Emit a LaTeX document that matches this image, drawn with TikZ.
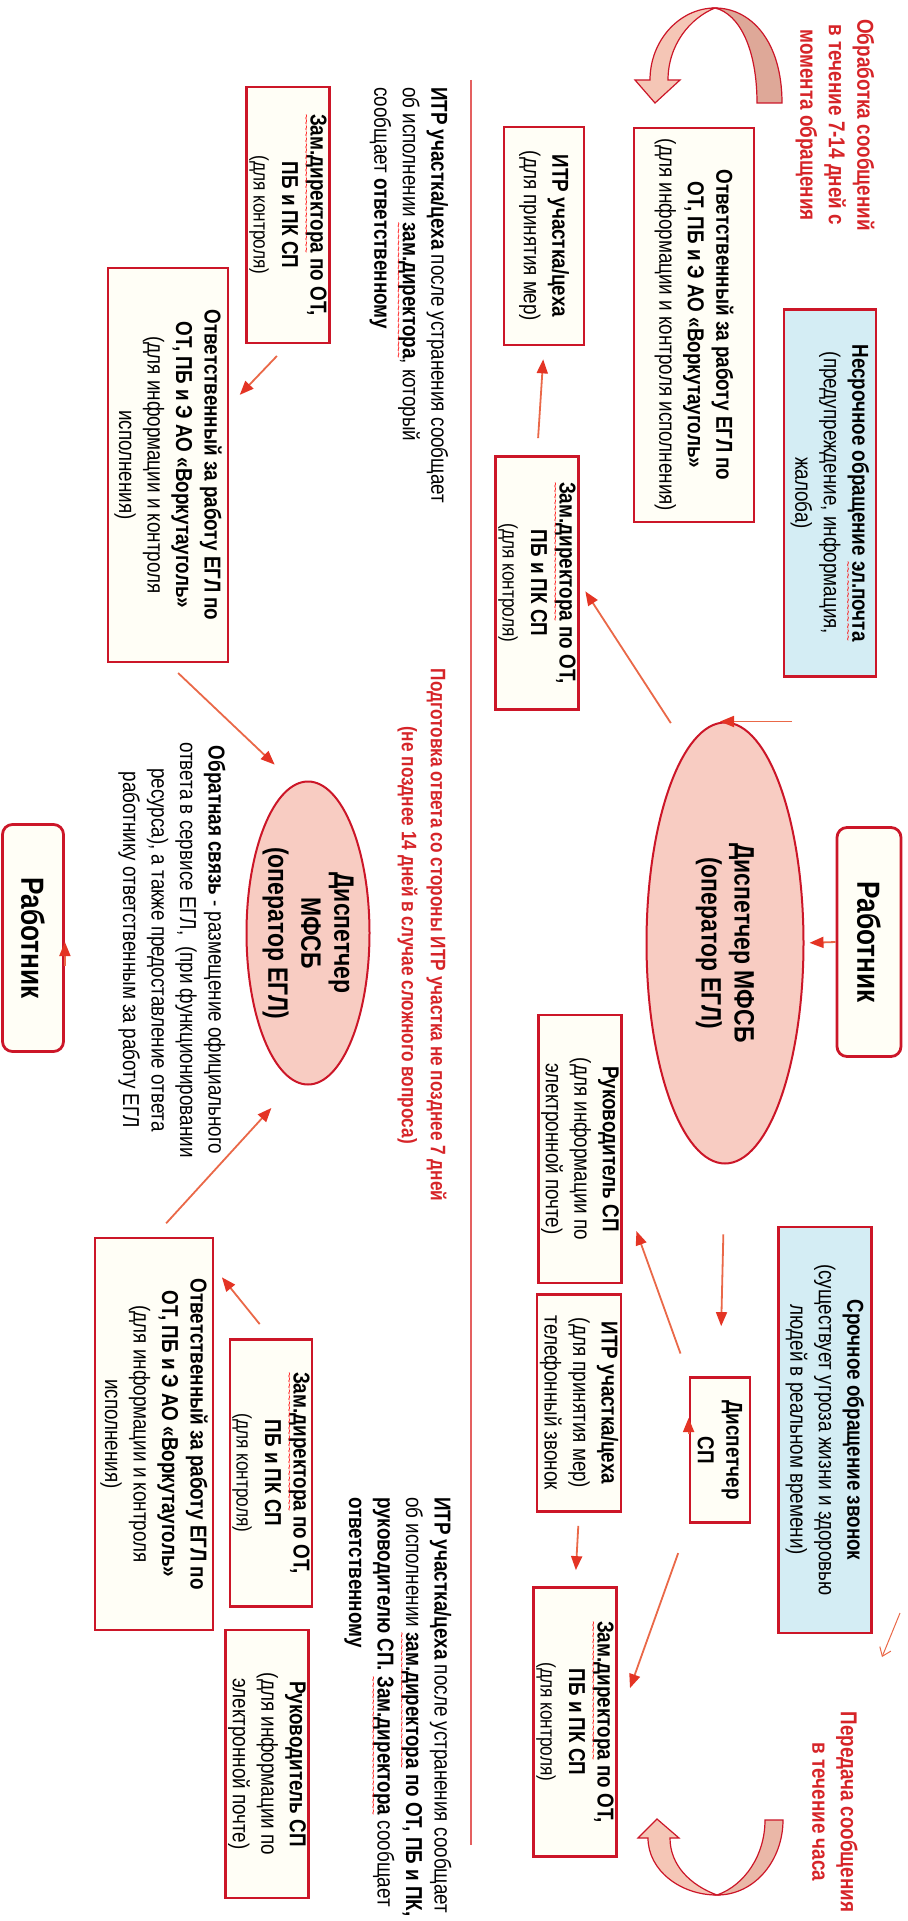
\documentclass[tikz,border=0pt]{standalone}
\usepackage{fontspec}
\setmainfont{Liberation Sans}[FakeStretch=0.82]
\usepackage{tikz}
\usetikzlibrary{calc}
\usetikzlibrary{positioning}
\usetikzlibrary{shapes.geometric}
\usetikzlibrary{arrows.meta}
\definecolor{boxred}{RGB}{204,22,40}
\definecolor{boxfill}{RGB}{255,254,246}
\definecolor{boxblue}{RGB}{212,237,244}
\definecolor{ellfill}{RGB}{248,204,194}
\definecolor{notered}{RGB}{214,36,40}
\definecolor{arrline}{RGB}{234,104,72}
\definecolor{arrtip}{RGB}{228,52,36}
\definecolor{divred}{RGB}{228,96,96}
\definecolor{curvelight}{RGB}{245,198,182}
\definecolor{curvedark}{RGB}{222,168,152}
\newsavebox{\spellbox}
\newcommand{\spell}[1]{\sbox{\spellbox}{#1}\rlap{\usebox{\spellbox}}\raisebox{-4.2pt}[0pt][0pt]{\hbox to \wd\spellbox{\color{red}\fontsize{6}{6}\selectfont\mdseries\xleaders\hbox{\char"7E}\hfill}}}
\newcommand{\bodysize}{\fontsize{11.5}{14.25}\selectfont}
\newcommand{\subsize}{\fontsize{10.5}{13}\selectfont}
\tikzstyle{pbox} = [draw=boxred, line width=1.4pt, fill=boxfill, align=center, inner sep=1pt, font=\bodysize]
\tikzstyle{bluebox} = [pbox, fill=boxblue]
\tikzstyle{worker} = [pbox, rounded corners=5pt, font=\fontsize{16}{19}\selectfont\bfseries]
\tikzstyle{mfsb} = [draw=boxred, line width=1pt, fill=ellfill, ellipse, align=center, inner sep=-2pt, font=\fontsize{14}{16.5}\selectfont\bfseries]
\tikzstyle{note} = [align=center, text=notered, font=\bodysize\bfseries]
\tikzstyle{txtnode} = [align=left, font=\bodysize]
\tikzstyle{flow} = [draw=arrline, line width=0.9pt, -{Triangle[length=7pt,width=5.5pt,color=arrtip]}]

\begin{document}
\begin{tikzpicture}[x=0.5pt, y=0.5pt]
    \fill[white] (0,0) rectangle (908,-1921);
    \useasboundingbox (0,0) rectangle (908,-1921);
    \begin{scope}[rotate=-90, transform shape]
    \node[worker, minimum width=114.5pt, minimum height=32pt] (worker_in) at (942,869) {Работник};
    \node[mfsb, minimum width=220.5pt, minimum height=78.5pt] (mfsb_in) at ($(worker_in)+(1,-144)$) {Диспетчер МФСБ\\(оператор ЕГЛ)};
    \node[bluebox, minimum width=183.5pt, minimum height=46pt] (mail_in) at (493,830) {\textbf{Несрочное обращение \spell{эл.почта}}\\(предупреждение, информация,\\жалоба)};
    \node[pbox, minimum width=197pt, minimum height=60pt] (resp_mail) at (325,694) {\textbf{Ответственный за работу ЕГЛ по}\\\textbf{ОТ, ПБ и Э АО «Воркутауголь»}\\(для информации и контроля исполнения)};
    \node[pbox, minimum width=109pt, minimum height=40pt] (itr_mail) at (236,544) {\textbf{ИТР участка/цеха}\\(для принятия мер)};
    \node[pbox, minimum width=126.5pt, minimum height=41.5pt] (zam_mail) at (583,537) {\textbf{\spell{Зам.директора} по ОТ,}\\\textbf{ПБ и ПК СП}\\{\subsize(для контроля)}};
    \node[pbox, minimum width=134pt, minimum height=41.5pt] (head_call) at (1149,580) {\textbf{Руководитель СП}\\(для информации по\\электронной почте)};
    \node[pbox, minimum width=108.5pt, minimum height=42pt] (itr_call) at (1403,579) {\textbf{ИТР участка/цеха}\\(для принятия мер)\\телефонный звонок};
    \node[pbox, minimum width=72.5pt, minimum height=30pt] (disp_sp) at (1450,720) {\textbf{Диспетчер}\\\textbf{СП}};
    \node[bluebox, minimum width=203pt, minimum height=46.5pt] (call_in) at (1430,825) {\textbf{Срочное обращение звонок}\\(существует угроза жизни и здоровью\\людей в реальном времени)};
    \node[pbox, minimum width=134.5pt, minimum height=41.5pt] (zam_call) at (1722,575) {\textbf{\spell{Зам.директора} по ОТ,}\\\textbf{ПБ и ПК СП}\\{\subsize(для контроля)}};
    \node[note] (note_mail) at (125,835) {Обработка сообщений\\в течение 7-14 дней с\\момента обращения};
    \node[note] (note_call) at (1812,835) {Передача сообщения\\в течение часа};

    \node[pbox, minimum width=128pt, minimum height=41.5pt] (zam_back) at (215,288) {\textbf{\spell{Зам.директора} по ОТ,}\\\textbf{ПБ и ПК СП}\\{\subsize(для контроля)}};
    \node[pbox, minimum width=197pt, minimum height=60pt] (resp_back) at (465,168) {\textbf{Ответственный за работу ЕГЛ по}\\\textbf{ОТ, ПБ и Э АО «Воркутауголь»}\\(для информации и контроля\\исполнения)};
    \node[mfsb, minimum width=151.5pt, minimum height=61.5pt] (mfsb_back) at (933,308) {Диспетчер\\МФСБ\\(оператор ЕГЛ)};
    \node[worker, minimum width=113.5pt, minimum height=30.5pt] (worker_back) at (938,33) {Работник};
    \node[pbox, minimum width=196pt, minimum height=59pt] (resp_back2) at (1434,154) {\textbf{Ответственный за работу ЕГЛ по}\\\textbf{ОТ, ПБ и Э АО «Воркутауголь»}\\(для информации и контроля\\исполнения)};
    \node[pbox, minimum width=133.5pt, minimum height=41pt] (zam_back2) at (1473,271) {\textbf{\spell{Зам.директора} по ОТ,}\\\textbf{ПБ и ПК СП}\\{\subsize(для контроля)}};
    \node[pbox, minimum width=134pt, minimum height=41.5pt] (head_back) at ($(zam_back2)+(291,-4)$) {\textbf{Руководитель СП}\\(для информации по\\электронной почте)};
    \node[txtnode, anchor=west] (report_top) at (80,409) {\textbf{ИТР участка/цеха} после устранения сообщает\\об исполнении \textbf{\spell{зам.директора}}, который\\сообщает \textbf{ответственному}};
    \node[note, font=\fontsize{10.5}{14.5}\selectfont\bfseries] (note_answer) at (935,422) {Подготовка ответа со стороны ИТР участка не позднее 7 дней\\(не позднее 14 дней в случае сложного вопроса)};
    \node[txtnode, align=center] (feedback) at (950,172) {\textbf{Обратная связь} - размещение официального\\ответа в сервисе ЕГЛ,\ \ (при функционировании\\ресурса), а также предоставление ответа\\работнику ответственным за работу ЕГЛ};
    \node[txtnode, anchor=west] (report_bottom) at (1490,398) {\textbf{ИТР участка/цеха} после устранения сообщает\\об исполнении \textbf{\spell{зам.директора} по ОТ, ПБ и ПК,}\\\textbf{руководителю СП. \spell{Зам.директора}} сообщает\\\textbf{ответственному}};

    \draw[draw=divred, line width=0.6pt] (80,471) -- (1845,471);

    \draw[flow, shorten >=2.5pt] (worker_in.south) -- (mfsb_in.north);
    \draw[flow, shorten <=33.5pt, shorten >=13pt] (mfsb_in.west) -- (mfsb_in.west |- resp_mail.east);
    \draw[flow, shorten <=15pt, shorten >=5pt] (mfsb_in.191) -- (zam_mail.north);
    \draw[flow, shorten <=8.5pt, shorten >=6.5pt] (zam_mail.west) -- (itr_mail.east);
    \draw[flow, shorten <=35pt, shorten >=25pt] (mfsb_in.east) -- (disp_sp.west);
    \draw[flow, shorten <=12pt, shorten >=20pt] (disp_sp.south west) -- (head_call.44);
    \draw[flow, shorten <=8pt, shorten >=7.5pt] (disp_sp.south) -- (disp_sp.south -| itr_call.north);
    \draw[flow, shorten <=6.5pt, shorten >=8pt] (itr_call.east) -- (zam_call.west);
    \draw[flow, shorten <=15.5pt, shorten >=18pt] (disp_sp.south east) -- (zam_call.north);

    \draw[flow, shorten <=8pt, shorten >=7.5pt] (zam_back.east) -- (resp_back.134);
    \draw[flow, shorten <=7pt, shorten >=14pt] (resp_back.east) -- (mfsb_back.185);
    \draw[flow, shorten <=9pt, shorten >=17.5pt] (resp_back2.west) -- (mfsb_back.355);
    \draw[flow, shorten <=9pt, shorten >=6pt] (zam_back2.west) -- (resp_back2.160);
    \draw[flow, shorten <=8pt, shorten >=2pt] (feedback.south |- worker_back.north) -- (worker_back.north);

    \filldraw[draw=boxred, line width=0.6pt, fill=curvedark] (103,782) .. controls (40,782) and (8,750) .. (8,715) .. controls (14,740) and (50,757) .. (103,757) -- cycle;
    \filldraw[draw=boxred, line width=0.6pt, fill=curvelight] (8,715) .. controls (8,680) and (40,650) .. (80,650) -- (80,635) -- (103,655) -- (80,680) -- (80,668) .. controls (45,668) and (18,690) .. (8,715) -- cycle;
    \filldraw[draw=boxred, line width=0.6pt, fill=curvedark!50!curvelight] (1820,783) .. controls (1860,783) and (1895,755) .. (1895,717) .. controls (1885,745) and (1855,765) .. (1820,765) -- cycle;
    \filldraw[draw=boxred, line width=0.6pt, fill=curvelight] (1895,717) .. controls (1895,680) and (1870,648) .. (1838,648) -- (1838,638) -- (1819,657) -- (1838,679) -- (1838,670) .. controls (1865,670) and (1885,690) .. (1895,717) -- cycle;

    \coordinate (tick_a) at (1613,900);
    \coordinate (tick_b) at (1657,882);
    \draw[draw=arrline, line width=0.5pt, -{Straight Barb[length=4pt,width=6pt]}] (tick_a) -- (tick_b);
    \end{scope}
\end{tikzpicture}
\end{document}
